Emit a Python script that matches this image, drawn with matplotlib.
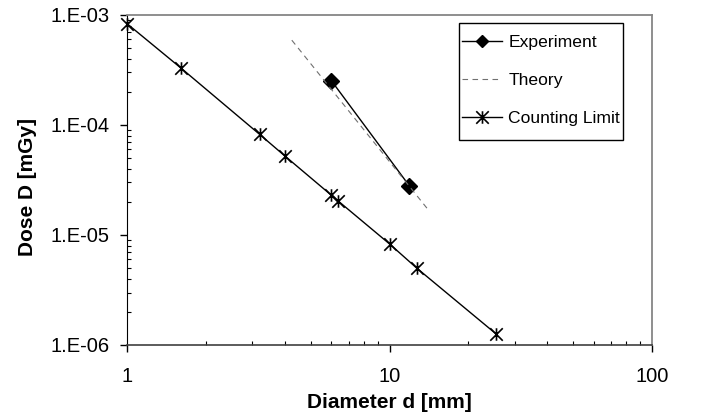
import matplotlib
matplotlib.use('Agg')
import matplotlib.pyplot as plt
from matplotlib.path import Path
from matplotlib.patches import Rectangle

# data
cl_d = [1.0, 1.6, 3.2, 4.0, 6.0, 6.35, 10.0, 12.7, 25.4]
cl_dose = [8.3e-4, 3.3e-4, 8.2e-5, 5.2e-5, 2.3e-5, 2.05e-5, 8.3e-6, 5.0e-6, 1.27e-6]

exp_d = [6.0, 11.9]
exp_dose = [2.53e-4, 2.8e-5]

theory_d = [4.24, 13.9]
theory_dose = [5.9e-4, 1.75e-5]

plt.rcParams['font.family'] = ['Liberation Sans', 'DejaVu Sans']

# excel style star marker: X with a vertical bar
star = Path([(-1, -1), (1, 1), (-1, 1), (1, -1), (0, -1), (0, 1)],
            [Path.MOVETO, Path.LINETO, Path.MOVETO, Path.LINETO, Path.MOVETO, Path.LINETO])

fig = plt.figure(figsize=(7.01, 4.16), dpi=100)
ax = fig.add_axes([0.1816, 0.1707, 0.7481, 0.7933])

ax.plot(exp_d, exp_dose, color='black', lw=1.0, marker='D', ms=8, label='Experiment')
ax.plot(theory_d, theory_dose, color='#707070', lw=0.8, dashes=(5, 4), label='Theory')
ax.plot(cl_d, cl_dose, color='black', lw=1.0, marker=star, ms=9, mew=1.2,
        label='Counting Limit', clip_on=False, zorder=5)

ax.set_xscale('log')
ax.set_yscale('log')
ax.set_xlim(1, 100)
ax.set_ylim(1e-6, 1e-3)

ax.set_xticks([1, 10, 100])
ax.set_xticklabels(['1', '10', '100'])
ax.set_yticks([1e-6, 1e-5, 1e-4, 1e-3])
ax.set_yticklabels(['1.E-06', '1.E-05', '1.E-04', '1.E-03'])

ax.tick_params(which='major', direction='out', length=5, width=1, labelsize=14.5, pad=11)
ax.tick_params(axis='y', which='major', pad=8)
ax.tick_params(which='minor', direction='in', length=3, width=0.8)

ax.spines['top'].set_color('#868686')
ax.spines['right'].set_color('#868686')
ax.spines['top'].set_linewidth(1.3)
ax.spines['right'].set_linewidth(1.3)
ax.spines['left'].set_color('black')
ax.spines['bottom'].set_color('#404040')
ax.spines['bottom'].set_linewidth(1.2)

ax.set_xlabel('Diameter d [mm]', fontsize=15, fontweight='bold')
ax.set_ylabel('Dose D [mGy]', fontsize=15, fontweight='bold')
ax.xaxis.set_label_coords(0.499, -0.145)
ax.yaxis.set_label_coords(-0.172, 0.479)

# legend without its own frame, box drawn separately (excel style padding)
leg = ax.legend(loc='upper left', bbox_to_anchor=(0.638, 0.939), borderaxespad=0,
                fontsize=12.6, frameon=False, borderpad=0,
                handlelength=2.3, handletextpad=0.35, labelspacing=1.3)
leg.legend_handles[0].set_markersize(6.5)
ax.add_patch(Rectangle((0.6325, 0.621), 0.3125, 0.3548, transform=ax.transAxes,
                       fill=False, edgecolor='black', lw=1.0, clip_on=False, zorder=6))

plt.savefig('out.png', dpi=100)
